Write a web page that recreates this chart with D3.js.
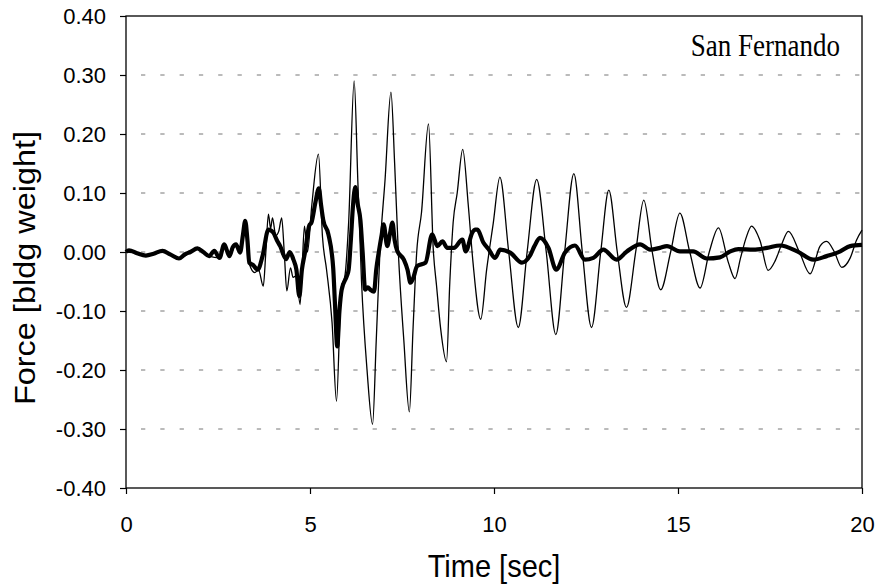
<!DOCTYPE html>
<html>
<head>
<meta charset="utf-8">
<script src="https://cdn.jsdelivr.net/npm/d3@7"></script>
<style>
  body { margin: 0; background: #fff; }
  svg { display: block; }
</style>
</head>
<body>
<script>
// thick trace (ground / base force)
var thickT = [0.0, 0.08, 0.3, 0.54, 0.75, 0.99, 1.2, 1.44, 1.6, 1.75, 1.94, 2.1, 2.26, 2.4, 2.54, 2.67, 2.81, 2.9, 2.99, 3.1,
  3.18, 3.24, 3.3, 3.35, 3.45, 3.58, 3.71, 3.87, 4.0, 4.1, 4.19, 4.35, 4.45, 4.55, 4.63, 4.71, 4.78, 4.86, 4.98, 5.04,
  5.15, 5.24, 5.3, 5.36, 5.5, 5.63, 5.68, 5.74, 5.8, 5.86, 6.0, 6.05, 6.11, 6.17, 6.23, 6.3, 6.37, 6.43, 6.5, 6.57,
  6.64, 6.74, 6.8, 6.87, 6.95, 7.0, 7.1, 7.17, 7.24, 7.3, 7.37, 7.55, 7.65, 7.73, 7.8, 7.91, 8.14, 8.32, 8.46, 8.6,
  8.73, 8.91, 9.14, 9.23, 9.41, 9.48, 9.55, 9.71, 9.85, 10.03, 10.17, 10.44, 10.76, 10.98, 11.1, 11.25, 11.48, 11.69, 11.93, 12.2,
  12.47, 12.7, 12.97, 13.33, 13.61, 13.97, 14.24, 14.51, 14.7, 15.05, 15.41, 15.78, 16.14, 16.42, 16.64, 17.05, 17.42, 17.78, 18.24, 18.68,
  19.04, 19.41, 19.68, 20.0];
var thickF = [0.000, 0.003, -0.002, -0.006, -0.003, 0.002, -0.004, -0.011, -0.004, 0.000, 0.006, 0.000, -0.007, 0.002, -0.010, 0.013, -0.007, 0.008, 0.013, -0.001,
  0.030, 0.053, 0.020, -0.018, -0.022, -0.030, -0.007, 0.038, 0.033, 0.020, 0.010, -0.012, 0.000, -0.013, -0.030, -0.075, -0.030, -0.002, 0.045, 0.050,
  0.085, 0.108, 0.080, 0.054, 0.030, -0.027, -0.090, -0.160, -0.100, -0.064, -0.041, -0.030, 0.020, 0.080, 0.110, 0.080, 0.054, 0.000, -0.064, -0.060,
  -0.064, -0.067, -0.030, 0.000, 0.030, 0.047, 0.010, 0.030, 0.050, 0.020, 0.002, -0.013, -0.030, -0.052, -0.045, -0.024, -0.018, 0.030, 0.010, 0.018,
  0.007, 0.007, 0.021, 0.001, 0.033, 0.038, 0.038, 0.016, 0.005, -0.010, 0.004, -0.001, -0.018, -0.006, 0.010, 0.024, 0.007, -0.030, -0.001, 0.011,
  -0.013, -0.010, 0.004, -0.013, 0.001, 0.013, 0.004, 0.007, 0.010, 0.001, 0.001, -0.011, -0.009, 0.001, 0.005, 0.004, 0.007, 0.011, 0.001, -0.013,
  -0.007, 0.001, 0.010, 0.012];

// thin trace (building response)
var thinT = [0.0, 0.3, 0.54, 0.99, 1.44, 1.94, 2.26, 2.54, 2.67, 2.81, 2.99, 3.1, 3.24, 3.35, 3.5, 3.6, 3.73, 3.8, 3.87, 3.93,
  3.98, 4.07, 4.15, 4.23, 4.3, 4.37, 4.47, 4.54, 4.63, 4.73, 4.79, 4.85, 4.93, 5.05, 5.23, 5.34, 5.45, 5.6, 5.72, 5.85,
  5.95, 6.05, 6.2, 6.3, 6.4, 6.55, 6.7, 6.8, 6.9, 7.04, 7.2, 7.3, 7.4, 7.55, 7.7, 7.8, 7.9, 8.03, 8.22, 8.35,
  8.44, 8.55, 8.71, 8.8, 8.89, 9.0, 9.15, 9.3, 9.43, 9.64, 9.8, 9.98, 10.16, 10.4, 10.66, 10.9, 11.16, 11.42, 11.68, 11.92,
  12.17, 12.4, 12.65, 12.9, 13.12, 13.35, 13.6, 13.85, 14.07, 14.3, 14.53, 14.8, 15.05, 15.32, 15.6, 15.85, 16.1, 16.37, 16.55, 16.7,
  16.85, 17.0, 17.23, 17.45, 17.64, 17.8, 18.0, 18.3, 18.59, 18.86, 19.04, 19.25, 19.45, 19.68, 19.85, 20.0];
var thinF = [0.000, -0.002, -0.006, 0.002, -0.011, 0.006, -0.007, -0.010, 0.013, -0.007, 0.013, -0.001, 0.055, -0.020, -0.035, -0.030, -0.058, 0.000, 0.064, 0.040,
  0.058, 0.028, 0.035, 0.058, 0.000, -0.066, -0.027, -0.043, -0.040, -0.089, -0.020, 0.044, 0.000, 0.080, 0.166, 0.025, -0.030, -0.120, -0.253, -0.060,
  -0.040, 0.050, 0.290, 0.120, -0.050, -0.200, -0.292, -0.150, 0.000, 0.123, 0.271, 0.150, 0.000, -0.150, -0.271, -0.130, 0.000, 0.067, 0.217, 0.004,
  -0.058, -0.130, -0.186, -0.050, 0.050, 0.100, 0.174, 0.080, -0.018, -0.114, -0.030, 0.049, 0.127, 0.000, -0.128, 0.000, 0.123, 0.000, -0.140, 0.000,
  0.133, 0.000, -0.128, 0.000, 0.105, 0.000, -0.094, 0.000, 0.088, 0.000, -0.064, 0.000, 0.066, 0.000, -0.061, 0.000, 0.041, -0.018, -0.045, -0.010,
  0.024, 0.044, 0.019, -0.031, -0.015, 0.010, 0.035, 0.000, -0.037, 0.010, 0.018, 0.000, -0.026, -0.010, 0.020, 0.037];

var xTicks = [0, 5, 10, 15, 20];
var yTicks = [-0.4, -0.3, -0.2, -0.1, 0, 0.1, 0.2, 0.3, 0.4];
var gridVals = [-0.3, -0.2, -0.1, 0, 0.1, 0.2, 0.3];

var width = 877, height = 585;
var plotL = 126, plotR = 862, plotT = 16, plotB = 488;

var svg = d3.select("body").append("svg")
    .attr("width", width)
    .attr("height", height);

var x = d3.scaleLinear().domain([0, 20]).range([plotL, plotR]);
var y = d3.scaleLinear().domain([-0.4, 0.4]).range([plotB, plotT]);

// dashed grid
svg.append("g")
    .selectAll("line")
    .data(gridVals)
    .enter().append("line")
    .attr("x1", plotL + 15)
    .attr("x2", plotR)
    .attr("y1", function (d) { return y(d); })
    .attr("y2", function (d) { return y(d); })
    .attr("stroke", "#777")
    .attr("stroke-width", 1)
    .attr("stroke-dasharray", "4.3,15");

// plot frame
svg.append("rect")
    .attr("x", plotL).attr("y", plotT)
    .attr("width", plotR - plotL).attr("height", plotB - plotT)
    .attr("fill", "none")
    .attr("stroke", "#000")
    .attr("stroke-width", 1.3);

var xAxis = svg.append("g")
    .attr("transform", "translate(0," + plotB + ")")
    .call(d3.axisBottom(x).tickValues(xTicks).tickSize(6).tickPadding(22).tickFormat(d3.format("d")));

var yAxis = svg.append("g")
    .attr("transform", "translate(" + plotL + ",0)")
    .call(d3.axisLeft(y).tickValues(yTicks).tickSize(6).tickPadding(14).tickFormat(d3.format(".2f")));

[xAxis, yAxis].forEach(function (g) {
    g.select(".domain").remove();
    g.selectAll(".tick line").attr("stroke", "#000").attr("stroke-width", 1.2);
    g.selectAll("text")
        .attr("fill", "#000")
        .style("font-family", "'Liberation Sans', Arial, sans-serif")
        .style("font-size", "22px");
});

// d3 writes a real minus sign; the original uses a plain hyphen
yAxis.selectAll("text").text(function (d) { return d3.format(".2f")(d).replace("\u2212", "-"); });

var line = d3.line()
    .x(function (d) { return x(d[0]); })
    .y(function (d) { return y(d[1]); })
    .curve(d3.curveMonotoneX);

var thin = thinT.map(function (t, i) { return [t, thinF[i]]; });
var thick = thickT.map(function (t, i) { return [t, thickF[i]]; });

svg.append("path")
    .datum(thin)
    .attr("d", line)
    .attr("fill", "none")
    .attr("stroke", "#000")
    .attr("stroke-width", 1.3);

svg.append("path")
    .datum(thick)
    .attr("d", line)
    .attr("fill", "none")
    .attr("stroke", "#000")
    .attr("stroke-width", 4.2)
    .attr("stroke-linejoin", "round");

// labels (the source picture is slightly stretched vertically)
svg.append("text")
    .attr("transform", "translate(840,56) scale(1,1.2)")
    .attr("text-anchor", "end")
    .style("font-family", "'Liberation Serif', 'Times New Roman', serif")
    .style("font-size", "27px")
    .text("San Fernando");

svg.append("text")
    .attr("transform", "translate(" + ((plotL + plotR) / 2) + ",577) scale(1,1.1)")
    .attr("text-anchor", "middle")
    .style("font-family", "'Liberation Sans', Arial, sans-serif")
    .style("font-size", "29px")
    .text("Time [sec]");

svg.append("text")
    .attr("transform", "translate(35,268) rotate(-90) scale(1.12,1)")
    .attr("text-anchor", "middle")
    .style("font-family", "'Liberation Sans', Arial, sans-serif")
    .style("font-size", "29px")
    .text("Force [bldg weight]");
</script>
</body>
</html>
